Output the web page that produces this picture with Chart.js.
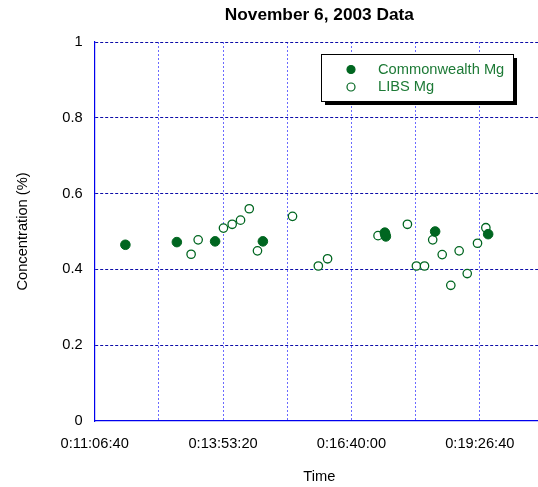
<!DOCTYPE html>
<html>
<head>
<meta charset="utf-8">
<title>November 6, 2003 Data</title>
<script src="https://cdn.jsdelivr.net/npm/chart.js@4"></script>
<style>
  html, body { margin: 0; padding: 0; overflow: hidden; background: #fff; }
  canvas { display: block; }
</style>
</head>
<body>
<!-- the plot runs past the right edge of the window, like the cropped original -->
<canvas id="grafico" width="558" height="487"></canvas>
<script>
// time of day in seconds, concentrations in %
const chartTitle = 'November 6, 2003 Data'
const seriesNames = ['Commonwealth Mg', 'LIBS Mg']

const commonwealthTime = [42390, 46400, 49380, 53100, 62600, 62680, 62640, 66520, 70650]
const commonwealthMg = [0.465, 0.472, 0.474, 0.474, 0.497, 0.487, 0.492, 0.500, 0.493]

const libsTime = [47510, 48060, 50030, 50710, 51360, 52040, 52680, 55410, 57420, 58140, 62070,
  64360, 65060, 65690, 66330, 67070, 67740, 68390, 69020, 69820, 70470]
const libsMg = [0.440, 0.478, 0.509, 0.519, 0.530, 0.560, 0.449, 0.540, 0.409, 0.428, 0.489,
  0.519, 0.409, 0.409, 0.478, 0.439, 0.358, 0.449, 0.389, 0.469, 0.510]

const xMin = 40000, xMax = 75000, xStep = 5000, xLabelStep = 10000
const yTicks = [0, 0.2, 0.4, 0.6, 0.8, 1]

const fontFamily = '"Liberation Sans", Arial, sans-serif'
const green = '#006620'
const textGreen = '#1d7a36'

function formatTime(sec) {
  const d = Math.floor(sec / 86400)
  const h = Math.floor((sec % 86400) / 3600)
  const m = Math.floor((sec % 3600) / 60)
  const s = Math.round(sec % 60)
  const p = n => n.toString().padStart(2, '0')
  return `${d}:${p(h)}:${p(m)}:${p(s)}`
}

const toPoints = (xs, ys) => xs.map((x, i) => ({ x: x, y: ys[i] }))

// titulo + legenda desenhados a mao
const decor = {
  id: 'decor',
  afterDraw(chart) {
    const ctx = chart.ctx
    const area = chart.chartArea
    ctx.save()
    ctx.fillStyle = '#000'
    ctx.font = 'bold 17.3px ' + fontFamily
    ctx.textAlign = 'center'
    ctx.textBaseline = 'middle'
    ctx.fillText(chartTitle, (area.left + area.right) / 2, 15)

    // legend box with shadow
    const bx = 321, by = 54, bw = 192, bh = 47
    ctx.fillStyle = '#000'
    ctx.fillRect(bx + 4, by + 4, bw, bh)
    ctx.fillStyle = '#fff'
    ctx.fillRect(bx, by, bw, bh)
    ctx.strokeStyle = '#000'
    ctx.lineWidth = 1
    ctx.strokeRect(bx + 0.5, by + 0.5, bw, bh)

    ctx.font = '14.67px ' + fontFamily
    ctx.textAlign = 'left'
    chart.data.datasets.forEach((ds, i) => {
      const y = 69.5 + i * 17.5
      ctx.beginPath()
      ctx.arc(351, y, 4, 0, Math.PI * 2)
      ctx.fillStyle = ds.backgroundColor
      ctx.fill()
      ctx.lineWidth = 1.2
      ctx.strokeStyle = ds.borderColor
      ctx.stroke()
      ctx.fillStyle = textGreen
      ctx.fillText(ds.label, 378, y)
    })
    ctx.restore()
  }
}

const ctx = document.getElementById('grafico').getContext('2d')

new Chart(ctx, {
  type: 'scatter',
  data: {
    datasets: [{
      label: seriesNames[0],
      data: toPoints(commonwealthTime, commonwealthMg),
      backgroundColor: green,
      borderColor: green,
      borderWidth: 1,
      pointRadius: 4.8
    }, {
      label: seriesNames[1],
      data: toPoints(libsTime, libsMg),
      backgroundColor: '#fff',
      borderColor: green,
      borderWidth: 1.3,
      pointRadius: 4.2
    }]
  },
  options: {
    responsive: false,
    animation: false,
    layout: { padding: { top: 42, left: 0, right: 0, bottom: 0 } },
    plugins: {
      legend: { display: false },
      title: { display: false },
      tooltip: { enabled: false }
    },
    scales: {
      x: {
        type: 'linear',
        min: xMin,
        max: xMax,
        afterFit: s => { s.height = 66 },
        afterBuildTicks: s => {
          s.ticks = []
          for (let v = xMin; v <= xMax; v += xStep) s.ticks.push({ value: v })
        },
        ticks: {
          autoSkip: false,
          maxRotation: 0,
          padding: 14,
          color: '#000',
          font: { family: fontFamily, size: 14.67 },
          callback: v => ((v - xMin) % xLabelStep === 0 ? formatTime(v) : '')
        },
        grid: {
          color: c => (c.tick && c.tick.value === xMin ? 'rgba(0,0,0,0)' : '#6a6aff'),
          lineWidth: 1,
          drawTicks: false
        },
        border: { color: '#0000ee', width: 1.2, dash: [2, 2] },
        title: {
          display: true,
          text: 'Time',
          color: '#000',
          font: { family: fontFamily, size: 14.67 },
          padding: { top: 0, bottom: 1 }
        }
      },
      y: {
        min: 0,
        max: 1,
        afterFit: s => { s.width = 94.7 },
        afterBuildTicks: s => { s.ticks = yTicks.map(v => ({ value: v })) },
        ticks: {
          padding: 12,
          color: '#000',
          font: { family: fontFamily, size: 14.67 },
          callback: v => String(+v.toFixed(1))
        },
        grid: {
          color: c => (c.tick && c.tick.value === 0 ? 'rgba(0,0,0,0)' : '#0c0ca8'),
          lineWidth: 1,
          drawTicks: false
        },
        border: { color: '#0000ee', width: 1.2, dash: [3, 2] },
        title: {
          display: true,
          text: 'Concentration (%)',
          color: '#000',
          font: { family: fontFamily, size: 14.67 },
          padding: { top: 14.2, bottom: 0 }
        }
      }
    }
  },
  plugins: [decor]
})
</script>
</body>
</html>
